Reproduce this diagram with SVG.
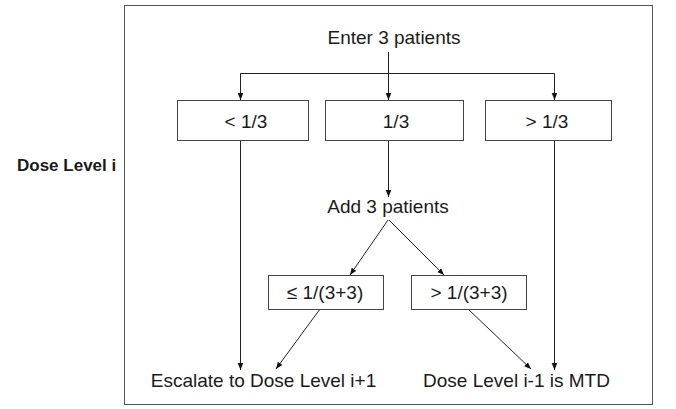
<svg xmlns="http://www.w3.org/2000/svg" width="676" height="409" viewBox="0 0 676 409">
<style>
  text { font-family: "Liberation Sans", Arial, sans-serif; font-size: 19px; fill: #1a1a1a; }
  .bold { font-weight: bold; font-size: 17px; }
  .box { fill: #fff; stroke: #444; stroke-width: 1; }
  .conn { stroke: #222; stroke-width: 1; fill: none; }
  .frame { fill: #fff; stroke: #555; stroke-width: 1; }
</style>
<defs>
  <marker id="ah" viewBox="0 0 10 10" refX="10" refY="5" markerWidth="7" markerHeight="7" markerUnits="userSpaceOnUse" orient="auto">
    <path d="M0,1 L10,5 L0,9 z" fill="#111"/>
  </marker>
</defs>
<rect width="676" height="409" fill="#fff"/>
<rect class="frame" x="124.5" y="5.5" width="528" height="399"/>
<g id="label-dose-level">
  <text class="bold" x="17" y="171">Dose Level i</text>
</g>
<g id="connectors">
  <line class="conn" x1="388.5" y1="52" x2="388.5" y2="100" marker-end="url(#ah)"/>
  <polyline class="conn" points="240.5,100 240.5,73.5 554.5,73.5 554.5,100" marker-end="url(#ah)"/>
  <line class="conn" x1="240.5" y1="73.5" x2="240.5" y2="100" marker-end="url(#ah)"/>
  <line class="conn" x1="240.5" y1="141" x2="240.5" y2="370" marker-end="url(#ah)"/>
  <line class="conn" x1="554.5" y1="141" x2="554.5" y2="370" marker-end="url(#ah)"/>
  <line class="conn" x1="388.5" y1="141" x2="388.5" y2="197" marker-end="url(#ah)"/>
  <line class="conn" x1="388" y1="220" x2="350" y2="275" marker-end="url(#ah)"/>
  <line class="conn" x1="389" y1="220" x2="444" y2="275" marker-end="url(#ah)"/>
  <line class="conn" x1="320" y1="309" x2="276" y2="369" marker-end="url(#ah)"/>
  <line class="conn" x1="468" y1="309" x2="531" y2="369" marker-end="url(#ah)"/>
</g>
<g id="enter">
  <text x="394" y="44" text-anchor="middle">Enter 3 patients</text>
</g>
<g id="lt">
  <rect class="box" x="177.5" y="100.5" width="131" height="40"/>
  <text x="246" y="128" text-anchor="middle">&lt; 1/3</text>
</g>
<g id="eq">
  <rect class="box" x="325.5" y="100.5" width="138" height="40"/>
  <text x="396" y="128" text-anchor="middle">1/3</text>
</g>
<g id="gt">
  <rect class="box" x="485.5" y="100.5" width="126" height="40"/>
  <text x="547" y="128" text-anchor="middle">&gt; 1/3</text>
</g>
<g id="add">
  <text x="388" y="213" text-anchor="middle">Add 3 patients</text>
</g>
<g id="le6">
  <rect class="box" x="268.5" y="275.5" width="115" height="34"/>
  <text x="325" y="299" text-anchor="middle">≤ 1/(3+3)</text>
</g>
<g id="gt6">
  <rect class="box" x="411.5" y="275.5" width="115" height="34"/>
  <text x="469" y="299" text-anchor="middle">&gt; 1/(3+3)</text>
</g>
<g id="escalate">
  <text x="263.5" y="387" text-anchor="middle">Escalate to Dose Level i+1</text>
</g>
<g id="mtd">
  <text x="516.5" y="387" text-anchor="middle">Dose Level i-1 is MTD</text>
</g>
</svg>
